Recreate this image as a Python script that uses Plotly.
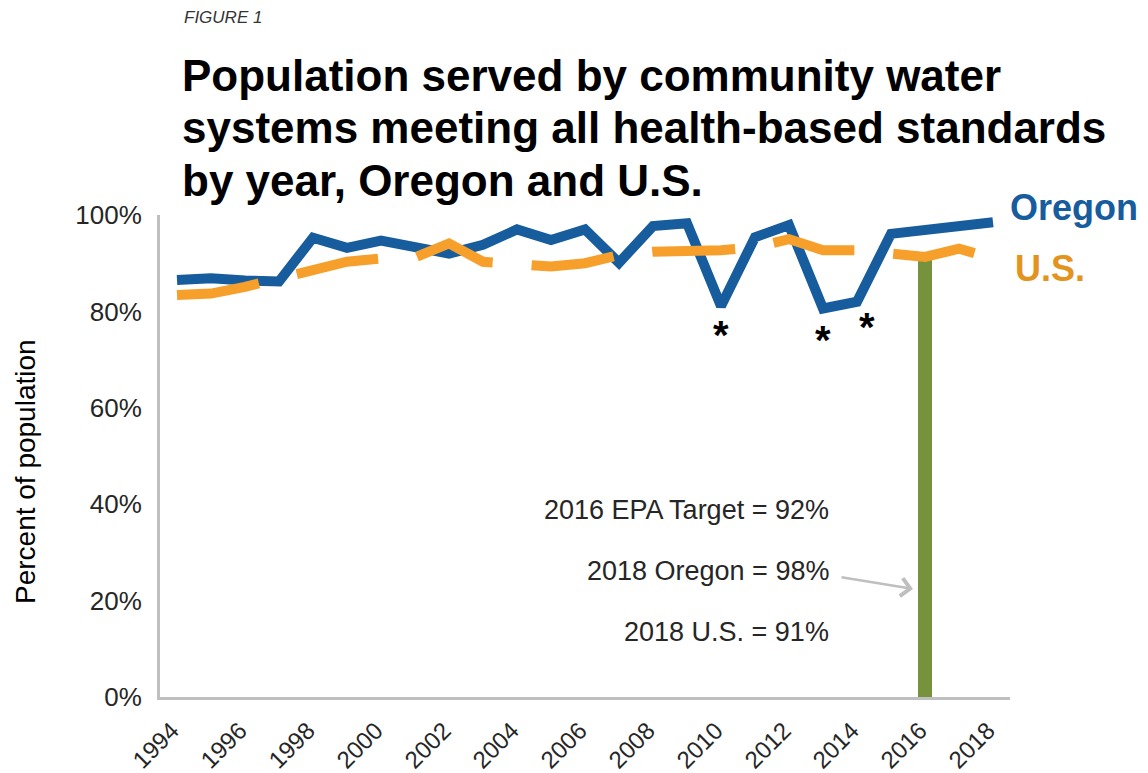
import plotly.graph_objects as go

# ---- data ----
years = list(range(1994, 2019))
oregon = [86.5, 86.9, 86.4, 86.2, 95.3, 93.2, 94.7, 93.3, 92.0, 93.8, 97.0, 94.8, 97.0,
          90.1, 97.7, 98.3, 81.1, 95.4, 97.9, 80.6, 82.0, 96.1, 97.0, 97.6, 98.5]
us = [83.4, 83.7, 85.1, 87.0, 88.9, 90.3, 91.0, 91.2, 94.1, 90.3, 89.8, 89.3, 90.0,
      91.7, 92.4, 92.4, 92.7, 93.3, 95.0, 92.7, 92.7, 92.0, 91.3, 93.0, 91.0]
target_year = [2016]
target_value = [92]
tick_years = list(range(1994, 2019, 2))
tick_labels = [str(y) for y in tick_years]
y_ticks = [0, 20, 40, 60, 80, 100]
y_tick_labels = [f"{v}%" for v in y_ticks]
asterisk_years = [2010, 2013, 2014]

BLUE = "#175C9C"
ORANGE = "#F6A02B"
ORANGE_TXT = "#E4941E"
GREEN = "#76923C"
GREY = "#BFBFBF"
FONT = "Arial, 'Liberation Sans', sans-serif"

OFF = 8  # page body margin
W, H = 1148 - OFF, 773 - OFF
L, R, T, B = 160 - OFF, 138, 215 - OFF, 76
PW, PH = W - L - R, H - T - B


def px_x(px):
    return (px - OFF - L) / PW


def px_y(py):
    return (H - B - (py - OFF)) / PH


fig = go.Figure()
fig.add_trace(go.Bar(x=target_year, y=target_value, width=0.4, marker_color=GREEN,
                     marker_line_width=0, showlegend=False))
fig.add_trace(go.Scatter(x=years, y=oregon, mode="lines",
                         line=dict(color=BLUE, width=10), showlegend=False))
fig.add_trace(go.Scatter(x=years, y=us, mode="lines",
                         line=dict(color=ORANGE, width=10, dash="83px,39px"),
                         showlegend=False))

ann = []
ann.append(dict(text="<i>FIGURE 1</i>", x=px_x(182), y=px_y(18), xref="paper", yref="paper",
                xanchor="left", yanchor="middle", showarrow=False,
                font=dict(family=FONT, size=17, color="#333333")))
title_lines = ["Population served by community water",
               "systems meeting all health-based standards",
               "by year, Oregon and U.S."]
for i, t in enumerate(title_lines):
    ann.append(dict(text=f"<b>{t}</b>", x=px_x(180), y=px_y(76 + 52 * i), xref="paper",
                    yref="paper", xanchor="left", yanchor="middle", showarrow=False,
                    font=dict(family=FONT, size=44, color="#000000")))
ann.append(dict(text="<b>Oregon</b>", x=px_x(1008), y=px_y(207), xref="paper", yref="paper",
                xanchor="left", yanchor="middle", showarrow=False,
                font=dict(family=FONT, size=36, color=BLUE)))
ann.append(dict(text="<b>U.S.</b>", x=px_x(1013), y=px_y(268), xref="paper", yref="paper",
                xanchor="left", yanchor="middle", showarrow=False,
                font=dict(family=FONT, size=36, color=ORANGE_TXT)))
ann.append(dict(text="Percent of population", x=px_x(25), y=px_y(472), xref="paper",
                yref="paper", xanchor="center", yanchor="middle", textangle=-90,
                showarrow=False, font=dict(family=FONT, size=28, color="#000000")))
notes = [("2016 EPA Target = 92%", 510), ("2018 Oregon = 98%", 571), ("2018 U.S. = 91%", 632)]
for t, py in notes:
    ann.append(dict(text=t, x=px_x(831), y=px_y(py), xref="paper", yref="paper",
                    xanchor="right", yanchor="middle", showarrow=False,
                    font=dict(family=FONT, size=27, color="#262626")))
# arrow
ann.append(dict(text="", x=px_x(913), y=px_y(589), xref="paper", yref="paper",
                ax=-73, ay=-12, axref="pixel", ayref="pixel",
                showarrow=True, arrowhead=4, arrowsize=1.4, arrowwidth=2.5, arrowcolor=GREY))
# asterisks
shifts = {2010: (0, -28.5), 2013: (0, -31.5), 2014: (10, -25.5)}
for yr in asterisk_years:
    xs, ys = shifts[yr]
    ann.append(dict(text="<b>*</b>", x=yr, y=oregon[years.index(yr)], xref="x", yref="y",
                    xshift=xs, yshift=ys, showarrow=False,
                    font=dict(family=FONT, size=40, color="#000000")))

fig.update_layout(
    width=W, height=H, autosize=False,
    margin=dict(l=L, r=R, t=T, b=B, autoexpand=False),
    paper_bgcolor="white", plot_bgcolor="white",
    annotations=ann, bargap=0,
    font=dict(family=FONT, color="#262626"),
)
fig.update_xaxes(range=[1993.5, 2018.5], tickvals=tick_years, ticktext=tick_labels,
                 tickangle=-45, showgrid=False, zeroline=False, showline=True,
                 linecolor=GREY, linewidth=3, ticks="", ticklabelstandoff=7,
                 ticklabelshift=-5,
                 tickfont=dict(family=FONT, size=24, color="#262626"))
fig.update_yaxes(range=[0, 100], tickvals=y_ticks, ticktext=y_tick_labels,
                 showgrid=False, zeroline=False, showline=True, linecolor=GREY,
                 linewidth=3, ticks="", ticklabelstandoff=10,
                 tickfont=dict(family=FONT, size=26, color="#262626"))

fig.write_html("out.html")
